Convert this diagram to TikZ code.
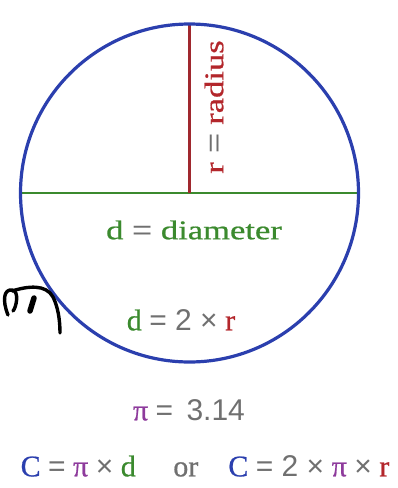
\documentclass[tikz,border=0pt]{standalone}
\usepackage{graphicx}
\usepackage{fontspec}
\setmainfont[FakeBold=0.7]{Liberation Serif}
\newfontfamily\numfont{Liberation Sans}
\definecolor{cblue}{HTML}{2B3FAE}
\definecolor{cgreen}{HTML}{3B8A2E}
\definecolor{cred}{HTML}{B3262B}
\definecolor{cdred}{HTML}{A0282E}
\definecolor{cpurple}{HTML}{8E3B9C}
\definecolor{cgray}{HTML}{707070}
\newcommand{\gs}[1]{{\numfont\color{cgray}#1}}
\newcommand{\gd}{{\color{cgreen}d}}
\newcommand{\rr}{{\color{cred}r}}
\newcommand{\pp}{{\color{cpurple}π}}
\newcommand{\cc}{{\color{cblue}C}}
\begin{document}
\begin{tikzpicture}[x=1pt,y=-1pt,
  lbl/.style={inner sep=0pt,anchor=center,font=\fontsize{30}{34}\selectfont},
  wide/.style={inner sep=0pt,anchor=center,font=\fontsize{27}{30}\selectfont}]
\useasboundingbox (0,0) rectangle (398,488);
\coordinate (O) at (189.5,193);
\coordinate (L) at (20.5,193);
\coordinate (R) at (358.5,193);
\coordinate (T) at (189.5,24);
\draw[cgreen,line width=2.8pt] (L) -- (R);
\draw[cdred,line width=2.6pt] (O) -- (T);
\draw[cblue,line width=3.2pt] (O) circle (169);
\node[wide,rotate=90] (rad) at (214,107) {\scalebox{1.28}[1]{\rr{} \gs{=} {\color{cred}radius}}};
\node[wide] (dia) at (194,230) {\scalebox{1.28}[1]{\gd{} \gs{=} {\color{cgreen}diameter}}};
\node[lbl] (d2r) at (181,320) {\gd{} \gs{= 2 ×} \rr};
\node[lbl] (pi) at (189,410) {\pp{} \gs{=\, 3.14}};
\node[lbl] (circ) at (205,466) {\cc{} \gs{=} \pp{} \gs{×} \gd\quad\ {\color{cgray}or}\quad\cc{} \gs{= 2 ×} \pp{} \gs{×} \rr};
% handwritten mark
\draw[black,line width=3.4pt,line cap=round,line join=round]
  (8,315) .. controls (2,300) and (4,289) .. (12,290)
  .. controls (20,291) and (16,308) .. (13,311);
\draw[black,line width=3.4pt,line cap=round,line join=round]
  (12,291) .. controls (28,286) and (46,284) .. (53,297)
  .. controls (58,307) and (60,320) .. (60,333);
\draw[black,line width=5.5pt,line cap=round] (34,298) -- (30,311);
\end{tikzpicture}
\end{document}
